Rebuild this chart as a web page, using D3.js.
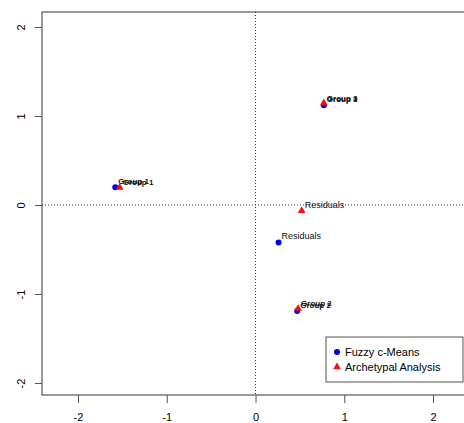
<!DOCTYPE html>
<meta charset="utf-8">
<style>
body { margin: 0; background: #fff; font-family: "Liberation Sans", Arial, sans-serif; }
.tick text { font-size: 11px; fill: #000; }
</style>
<body>
<script src="https://d3js.org/d3.v7.min.js"></script>
<script>
// point labels (same order in both series)
var labels = ["Group 1", "Group 3", "Group 2", "Residuals"];
// Fuzzy c-Means centres
var fcmX = [-1.58, 0.77, 0.47, 0.26];
var fcmY = [0.20, 1.12, -1.19, -0.42];
// Archetypal Analysis archetypes
var aaX = [-1.53, 0.77, 0.48, 0.52];
var aaY = [0.19, 1.14, -1.17, -0.07];
var ticks = [-2, -1, 0, 1, 2];
var legendNames = ["Fuzzy c-Means", "Archetypal Analysis"];

var width = 464, height = 423;
var x = d3.scaleLinear().domain([-2, 2]).range([78, 433]);
var y = d3.scaleLinear().domain([-2, 2]).range([383, 27]);
var box = {left: 42, top: 12, right: 470, bottom: 395};

var svg = d3.select("body").append("svg")
    .attr("width", width)
    .attr("height", height);

// reference lines
svg.append("line")
    .attr("x1", x(0)).attr("x2", x(0))
    .attr("y1", box.top).attr("y2", box.bottom)
    .attr("stroke", "#333").attr("stroke-dasharray", "1,2");
svg.append("line")
    .attr("x1", box.left).attr("x2", box.right)
    .attr("y1", y(0)).attr("y2", y(0))
    .attr("stroke", "#333").attr("stroke-dasharray", "1,2");

// plot frame
svg.append("rect")
    .attr("x", box.left).attr("y", box.top)
    .attr("width", box.right - box.left).attr("height", box.bottom - box.top)
    .attr("fill", "none").attr("stroke", "#555").attr("stroke-width", 1.2);

var fmt = function(d) { return String(d); };

var xAxis = svg.append("g")
    .attr("transform", "translate(0," + box.bottom + ")")
    .call(d3.axisBottom(x).tickValues(ticks).tickSize(8).tickPadding(10).tickFormat(fmt));
xAxis.select(".domain").remove();
xAxis.selectAll("line").attr("stroke", "#555");

var yAxis = svg.append("g")
    .attr("transform", "translate(" + box.left + ",0)")
    .call(d3.axisLeft(y).tickValues(ticks).tickSize(7).tickPadding(0).tickFormat(fmt));
yAxis.select(".domain").remove();
yAxis.selectAll("line").attr("stroke", "#555");
yAxis.selectAll("text")
    .attr("x", 0)
    .attr("text-anchor", "middle")
    .attr("transform", "translate(-21,0) rotate(-90)")
    .attr("dy", "0.35em");

var fcm = labels.map(function(l, i) { return {label: l, x: fcmX[i], y: fcmY[i]}; });
var aa = labels.map(function(l, i) { return {label: l, x: aaX[i], y: aaY[i]}; });
var tri = d3.symbol().type(d3.symbolTriangle).size(26);

svg.append("g").selectAll("circle")
    .data(fcm).enter().append("circle")
    .attr("cx", function(d) { return x(d.x); })
    .attr("cy", function(d) { return y(d.y); })
    .attr("r", 3)
    .attr("fill", "#0000ee");

svg.append("g").selectAll("path")
    .data(aa).enter().append("path")
    .attr("d", tri)
    .attr("transform", function(d) { return "translate(" + x(d.x) + "," + (y(d.y) - 0.5) + ")"; })
    .attr("fill", "#ee1111");

// both series are labelled, so coinciding centres give overprinted text
function pointLabels(data) {
    svg.append("g").selectAll("text")
        .data(data).enter().append("text")
        .attr("x", function(d) { return x(d.x) + 3; })
        .attr("y", function(d) { return y(d.y) - 3; })
        .attr("font-size", function(d) { return d.label === "Residuals" ? 9 : 8; })
        .attr("font-weight", function(d) { return d.label === "Residuals" ? "normal" : "bold"; })
        .attr("fill", "#111")
        .text(function(d) { return d.label; });
}
pointLabels(fcm);
pointLabels(aa);

// legend
var lg = svg.append("g").attr("transform", "translate(326,337)");
lg.append("rect")
    .attr("width", 137).attr("height", 45)
    .attr("fill", "#fff").attr("stroke", "#555");
lg.append("circle").attr("cx", 11).attr("cy", 15).attr("r", 3).attr("fill", "#0000ee");
lg.append("path").attr("d", tri).attr("transform", "translate(11,30)").attr("fill", "#ee1111");
lg.selectAll("text.lab")
    .data(legendNames).enter().append("text")
    .attr("x", 19)
    .attr("y", function(d, i) { return 15 + i * 15; })
    .attr("dy", "0.35em")
    .attr("font-size", 11)
    .text(function(d) { return d; });
</script>
</body>
